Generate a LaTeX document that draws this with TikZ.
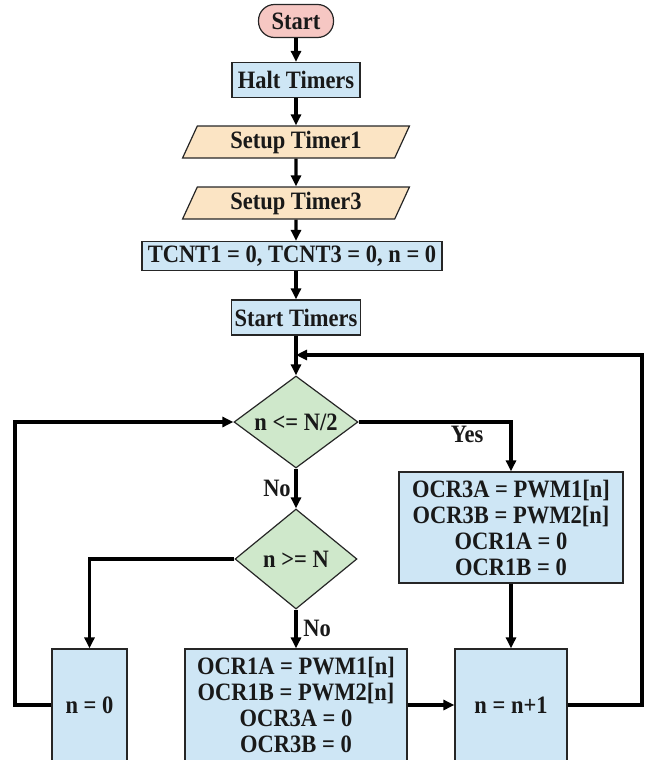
\documentclass[tikz,border=0pt]{standalone}
\usepackage{fontspec}
\setmainfont{Liberation Serif}[FakeStretch=0.9]
\usetikzlibrary{shapes.geometric, arrows.meta}
\definecolor{startpink}{RGB}{246,199,195}
\definecolor{procblue}{RGB}{206,230,245}
\definecolor{iopeach}{RGB}{251,228,196}
\definecolor{testgreen}{RGB}{207,232,203}
\tikzset{
base/.style={draw=black!85, line width=1.2pt, text=black!90, font=\bfseries\fontsize{25}{26}\selectfont, inner sep=1pt},
terminal/.style={base, rectangle, rounded corners=16pt, fill=startpink, minimum width=75pt, minimum height=33pt},
process/.style={base, rectangle, fill=procblue, align=center},
io/.style={base, trapezium, trapezium left angle=68, trapezium right angle=112, trapezium stretches=true, fill=iopeach, minimum width=227pt, minimum height=32pt},
decision/.style={base, diamond, aspect=1.35, inner sep=0pt, fill=testgreen},
flow/.style={line width=3.4pt, -{Triangle[length=11pt,width=10pt]}},
branch/.style={font=\bfseries\fontsize{25}{26}\selectfont, text=black!90, inner sep=0pt},
}

\begin{document}
\begin{tikzpicture}[x=1pt, y=-1pt]
            \useasboundingbox (0,0) rectangle (648,760);
            \node[terminal] (start) at (296,21) {Start};
            \node[process, minimum width=128pt, minimum height=35pt] (halt) at (296,80) {Halt Timers};
            \node[io] (setup1) at (296,142) {Setup Timer1};
            \node[io] (setup3) at (296,203) {Setup Timer3};
            \node[process, minimum width=300pt, minimum height=29pt] (init) at (292,256) {TCNT1 = 0, TCNT3 = 0, n = 0};
            \node[process, minimum width=129pt, minimum height=35pt] (run) at (296,317.5) {Start Timers};
            \node[decision, minimum width=124pt, minimum height=92pt] (cmphalf) at (296,422) {n <= N/2};
            \node[decision, minimum width=122pt, minimum height=100pt] (cmpfull) at (296,559) {n >= N};
            \node[process, minimum width=224pt, minimum height=111pt] (upper) at (511,527.5) {OCR3A = PWM1[n]\\OCR3B = PWM2[n]\\OCR1A = 0\\OCR1B = 0};
            \node[process, minimum width=75pt, minimum height=112pt] (reset) at (89.5,705) {n = 0};
            \node[process, minimum width=222pt, minimum height=112pt] (lower) at (296,705) {OCR1A = PWM1[n]\\OCR1B = PWM2[n]\\OCR3A = 0\\OCR3B = 0};
            \node[process, minimum width=112pt, minimum height=112pt] (inc) at (511,705) {n = n+1};
            \node[branch] (yes) at (467,434) {Yes};
            \node[branch] (no1) at (277,488) {No};
            \node[branch] (no2) at (317,628) {No};
            \coordinate (merge) at (296,355);
            \coordinate (rloop) at (642,355);
            \coordinate (lloop) at (15,422);
            \draw[flow] (start) -- (halt);
            \draw[flow] (halt) -- (setup1);
            \draw[flow] (setup1) -- (setup3);
            \draw[flow] (setup3) -- (setup3 |- init.north);
            \draw[flow] (init.south -| run) -- (run);
            \draw[flow] (run) -- (cmphalf);
            \draw[flow] (cmphalf.east) -| (upper.north);
            \draw[flow] (cmphalf) -- (cmpfull);
            \draw[flow] (cmpfull.west) -| (reset.north);
            \draw[flow] (cmpfull) -- (lower);
            \draw[flow] (upper) -- (inc);
            \draw[flow] (lower) -- (inc);
            \draw[flow] (inc.east) -| (rloop) -- (merge);
            \draw[flow] (reset.west) -| (lloop) -- (cmphalf.west);
        \end{tikzpicture}
\end{document}
